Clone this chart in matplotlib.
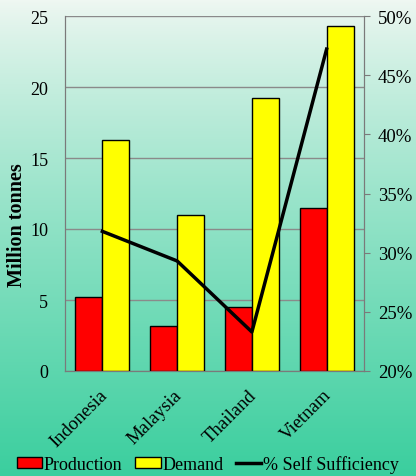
import numpy as np
import matplotlib.pyplot as plt
import matplotlib.transforms as mtransforms
from matplotlib.ticker import PercentFormatter

plt.rcParams.update({"font.family": "serif",
                     "font.serif": ["Liberation Serif", "DejaVu Serif"],
                     "font.size": 13})

countries = ["Indonesia", "Malaysia", "Thailand", "Vietnam"]
production = [5.2, 3.2, 4.5, 11.5]
demand = [16.3, 11.0, 19.2, 24.3]
self_suff = [31.8, 29.3, 23.3, 47.2]

fig = plt.figure(figsize=(4.16, 4.77), dpi=100)

# background gradient: pale at top, green at bottom
bg = fig.add_axes([0, 0, 1, 1], zorder=-10)
grad = np.linspace(0, 1, 256).reshape(-1, 1)
top = np.array([0.94, 0.97, 0.95])
bot = np.array([0.23, 0.81, 0.62])
img = top + (bot - top) * grad[..., None] ** 0.85
bg.imshow(img, aspect="auto", extent=[0, 1, 0, 1], origin="upper")
bg.axis("off")

ax = fig.add_axes([65 / 416, 1 - 372 / 477, 299 / 416, 355 / 477])
ax.patch.set_alpha(0)
x = np.arange(len(countries))
w = 0.36
ax.bar(x - w / 2, production, w, color="#ff0000", edgecolor="black", linewidth=1, label="Production", zorder=3)
ax.bar(x + w / 2, demand, w, color="#ffff00", edgecolor="black", linewidth=1, label="Demand", zorder=3)
ax.set_xlim(-0.5, 3.5)
ax.set_ylim(0, 25)
ax.set_yticks(range(0, 26, 5))
ax.yaxis.grid(True, color="#8a8a8a", linewidth=1)
ax.set_axisbelow(True)
ax.tick_params(axis="y", length=0, pad=12)
ax.tick_params(axis="x", length=0, pad=11)
ax.set_xticks(x)
ax.set_xticklabels(countries, rotation=45, ha="right", rotation_mode="anchor", fontsize=13.5)
shift = mtransforms.ScaledTranslation(-4 / 100, 0, fig.dpi_scale_trans)
for lab in ax.get_xticklabels():
    lab.set_transform(lab.get_transform() + shift)
ax.set_ylabel("Million tonnes", fontweight="bold", fontsize=14.5)
ax.yaxis.set_label_coords(-38 / 299, (372 - 225) / 355)
ax.spines["top"].set_visible(False)
for s in ["left", "right", "bottom"]:
    ax.spines[s].set_color("#7a7a7a")

ax2 = ax.twinx()
ax2.plot(x, self_suff, color="black", linewidth=2.5, label="% Self Sufficiency", zorder=4)
ax2.set_ylim(20, 50)
ax2.yaxis.set_major_formatter(PercentFormatter(decimals=0))
ax2.tick_params(axis="y", length=4, color="#7a7a7a", pad=6, labelsize=13.5)
ax2.spines["top"].set_visible(False)
for s in ["left", "right", "bottom"]:
    ax2.spines[s].set_color("#7a7a7a")

h1, l1 = ax.get_legend_handles_labels()
h2, l2 = ax2.get_legend_handles_labels()
fig.legend(h1 + h2, l1 + l2, loc="center", bbox_to_anchor=(0.5, 12 / 477), ncol=3,
           frameon=False, handlelength=1.4, handleheight=0.55, handletextpad=0.1,
           columnspacing=0.7, fontsize=13, borderpad=0, borderaxespad=0)

fig.savefig("out.png", dpi=100)
